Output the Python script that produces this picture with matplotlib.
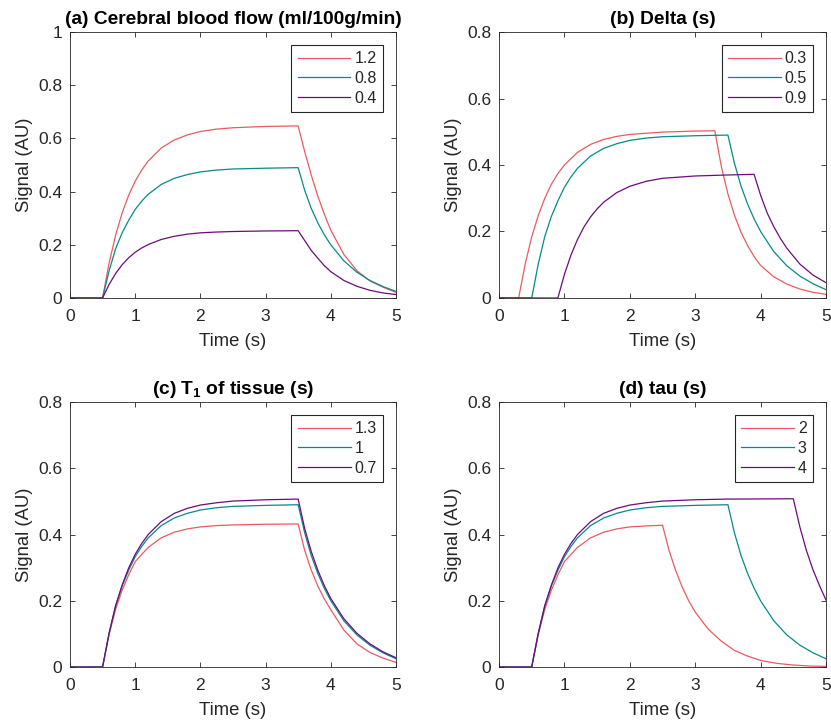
import matplotlib
matplotlib.use("Agg")
import matplotlib.pyplot as plt

plt.rcParams["font.family"] = ["Liberation Sans", "DejaVu Sans"]
plt.rcParams["mathtext.fontset"] = "custom"
plt.rcParams["mathtext.rm"] = "Liberation Sans"
plt.rcParams["mathtext.bf"] = "Liberation Sans:bold"

RED = "#EB5A60"
TEAL = "#078A8A"
PURPLE = "#6C0C7A"
DARK = "#262626"

# common time grid (bolus arrives at 0.5 s, ends at 3.5 s)
t_base = [0, 0.5, 0.6, 0.7, 0.8, 0.9, 1.0, 1.1, 1.2, 1.4, 1.6, 1.8, 2.0, 2.25, 2.5,
          3.0, 3.5, 3.6, 3.7, 3.8, 3.9, 4.0, 4.2, 4.4, 4.6, 4.8, 5.0]

# default curve (green in every panel)
s_base = [0, 0, 0.102, 0.185, 0.245, 0.292, 0.333, 0.364, 0.390, 0.427, 0.450, 0.464,
          0.474, 0.481, 0.485, 0.488, 0.490, 0.405, 0.337, 0.283, 0.238, 0.200, 0.140,
          0.097, 0.066, 0.043, 0.025]

# (a) cerebral blood flow
cbf_labels = ["1.2", "0.8", "0.4"]
s_cbf_hi = [0, 0, 0.131, 0.236, 0.320, 0.386, 0.439, 0.481, 0.515, 0.564, 0.594, 0.613,
            0.626, 0.635, 0.640, 0.645, 0.647, 0.550, 0.463, 0.384, 0.316, 0.255, 0.164,
            0.103, 0.064, 0.041, 0.021]
s_cbf_lo = [0, 0, 0.051, 0.092, 0.125, 0.151, 0.172, 0.188, 0.201, 0.220, 0.232, 0.240,
            0.245, 0.248, 0.250, 0.252, 0.253, 0.216, 0.179, 0.150, 0.122, 0.099, 0.066,
            0.044, 0.029, 0.019, 0.013]

# (b) arrival delay
delta_labels = ["0.3", "0.5", "0.9"]
t_delta_short = [0, 0.3, 0.4, 0.5, 0.6, 0.7, 0.8, 0.9, 1.0, 1.2, 1.4, 1.6, 1.8, 2.0, 2.5,
                 3.0, 3.3, 3.4, 3.5, 3.6, 3.7, 3.8, 3.9, 4.0, 4.2, 4.4, 4.6, 4.8, 5.0]
s_delta_short = [0, 0, 0.102, 0.184, 0.248, 0.300, 0.342, 0.374, 0.400, 0.438, 0.462, 0.477,
                 0.486, 0.492, 0.499, 0.502, 0.503, 0.395, 0.313, 0.249, 0.198, 0.158,
                 0.125, 0.098, 0.064, 0.042, 0.027, 0.017, 0.011]
t_delta_long = [0, 0.9, 1.0, 1.1, 1.2, 1.3, 1.4, 1.5, 1.6, 1.8, 2.0, 2.25, 2.5, 3.0, 3.5,
                3.9, 4.0, 4.1, 4.2, 4.3, 4.4, 4.6, 4.8, 5.0]
s_delta_long = [0, 0, 0.071, 0.129, 0.176, 0.214, 0.244, 0.268, 0.288, 0.317, 0.336, 0.351,
                0.360, 0.367, 0.370, 0.372, 0.309, 0.256, 0.215, 0.180, 0.150, 0.102,
                0.069, 0.046]

# (c) tissue T1
t1_labels = ["1.3", "1", "0.7"]
s_t1_long = [0, 0, 0.098, 0.174, 0.232, 0.278, 0.318, 0.340, 0.361, 0.390, 0.407, 0.417,
             0.423, 0.427, 0.429, 0.431, 0.432, 0.352, 0.293, 0.245, 0.206, 0.173, 0.112,
             0.070, 0.044, 0.027, 0.014]
s_t1_short = [0, 0, 0.102, 0.185, 0.247, 0.299, 0.340, 0.373, 0.400, 0.439, 0.464, 0.479,
              0.489, 0.496, 0.501, 0.505, 0.507, 0.418, 0.349, 0.293, 0.246, 0.207, 0.146,
              0.102, 0.070, 0.046, 0.028]

# (d) bolus duration
tau_labels = ["2", "3", "4"]
t_tau_short = [0, 0.5, 0.6, 0.7, 0.8, 0.9, 1.0, 1.1, 1.2, 1.4, 1.6, 1.8, 2.0, 2.25, 2.5,
               2.6, 2.7, 2.8, 2.9, 3.0, 3.2, 3.4, 3.6, 3.8, 4.0, 4.25, 4.5, 4.75, 5.0]
s_tau_short = [0, 0, 0.098, 0.174, 0.232, 0.278, 0.318, 0.340, 0.361, 0.390, 0.407, 0.417,
               0.423, 0.426, 0.428, 0.352, 0.292, 0.242, 0.200, 0.166, 0.114, 0.078, 0.050,
               0.033, 0.020, 0.011, 0.006, 0.003, 0.002]
t_tau_long = [0, 0.5, 0.6, 0.7, 0.8, 0.9, 1.0, 1.1, 1.2, 1.4, 1.6, 1.8, 2.0, 2.25, 2.5,
              3.0, 3.5, 4.0, 4.5, 4.6, 4.7, 4.8, 4.9, 5.0]
s_tau_long = [0, 0, 0.102, 0.185, 0.247, 0.299, 0.340, 0.373, 0.400, 0.439, 0.464, 0.479,
              0.489, 0.496, 0.501, 0.505, 0.507, 0.5075, 0.508, 0.423, 0.352, 0.294, 0.246,
              0.202]

panels = [
    ("(a) Cerebral blood flow (ml/100g/min)", cbf_labels, 1.0,
     [(t_base, s_cbf_hi), (t_base, s_base), (t_base, s_cbf_lo)]),
    ("(b) Delta (s)", delta_labels, 0.8,
     [(t_delta_short, s_delta_short), (t_base, s_base), (t_delta_long, s_delta_long)]),
    ("(c) T$_\\mathbf{1}$ of tissue (s)", t1_labels, 0.8,
     [(t_base, s_t1_long), (t_base, s_base), (t_base, s_t1_short)]),
    ("(d) tau (s)", tau_labels, 0.8,
     [(t_tau_short, s_tau_short), (t_base, s_base), (t_tau_long, s_tau_long)]),
]

boxes = [
    [0.0842, 0.5884, 0.3923, 0.3674],
    [0.6005, 0.5884, 0.3935, 0.3674],
    [0.0842, 0.0787, 0.3923, 0.3660],
    [0.6005, 0.0787, 0.3935, 0.3660],
]

fig = plt.figure(figsize=(8.31, 7.24), dpi=100)

for box, (title, labels, ymax, series) in zip(boxes, panels):
    ax = fig.add_axes(box)
    for (t, s), c, lab in zip(series, [RED, TEAL, PURPLE], labels):
        ax.plot(t, s, color=c, lw=0.9, label=lab)
    ax.set_xlim(0, 5)
    ax.set_ylim(0, ymax)
    ax.set_xticks(range(6))
    ax.set_xticklabels([str(i) for i in range(6)])
    yt = [round(0.2 * i, 1) for i in range(int(round(ymax / 0.2)) + 1)]
    ax.set_yticks(yt)
    ax.set_yticklabels(["0" if v == 0 else ("1" if v == 1 else f"{v:g}") for v in yt])
    ax.tick_params(direction="in", length=3.5, width=0.6, top=True, right=True,
                   labelsize=12.5, colors=DARK)
    ax.tick_params(axis="x", pad=8)
    ax.tick_params(axis="y", pad=5.5)
    for sp in ax.spines.values():
        sp.set_linewidth(0.6)
        sp.set_color(DARK)
    ax.set_xlabel("Time (s)", fontsize=13.3, color=DARK, labelpad=6.5)
    ax.set_ylabel("Signal (AU)", fontsize=13.3, color=DARK, labelpad=3.5)
    ax.set_title(title, fontsize=13.8, fontweight="bold", pad=6)
    leg = ax.legend(loc="upper right", fontsize=11.5, handlelength=3.3, handletextpad=0.25,
                    labelspacing=0.3, borderaxespad=0.8, fancybox=False,
                    framealpha=1, borderpad=0.4)
    leg.get_frame().set_edgecolor(DARK)
    leg.get_frame().set_linewidth(0.8)
    for txt in leg.get_texts():
        txt.set_color(DARK)

fig.savefig("out.png", dpi=100)
